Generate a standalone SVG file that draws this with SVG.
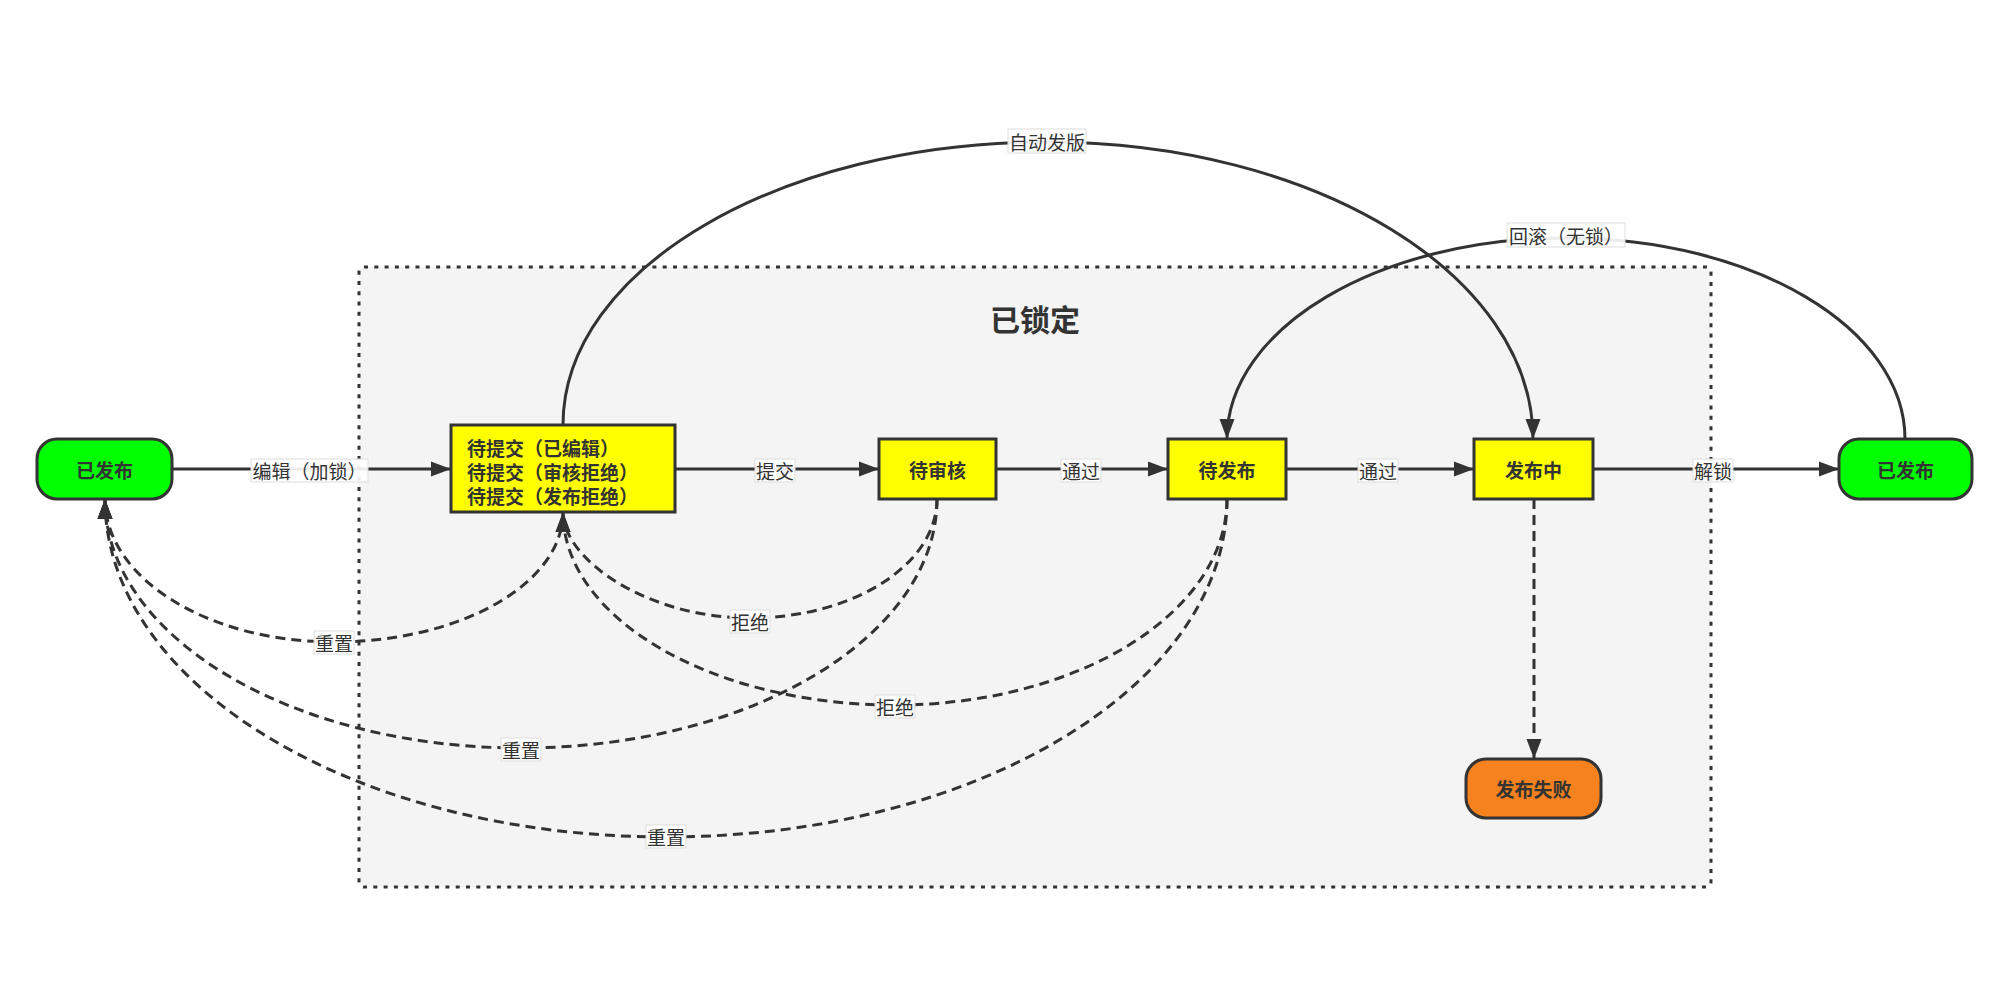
<svg xmlns="http://www.w3.org/2000/svg" width="2010" height="985" viewBox="0 0 2010 985">
<defs>
<style>
.bg{fill:#ffffff}
.cluster{fill:#f4f4f4;stroke:#333333;stroke-width:3;stroke-dasharray:4 6.3}
.title{font-family:"Noto Sans CJK SC","Noto Sans",sans-serif;font-size:30px;font-weight:bold;fill:#333333}
.node{stroke:#333333;stroke-width:3}
.yellow{fill:#ffff00}
.green{fill:#00ff00}
.orange{fill:#f5821f}
.ntext{font-family:"Noto Sans CJK SC","Noto Sans",sans-serif;font-size:19px;font-weight:bold;fill:#333333}
.edge{fill:none;stroke:#333333;stroke-width:3}
.dash{stroke-dasharray:10 6}
.lbox{fill:#ffffff;fill-opacity:0.9;stroke:#dddddd;stroke-width:1}
.ltext{font-family:"Noto Sans CJK SC","Noto Sans",sans-serif;font-size:19px;fill:#333333}
</style>
<marker id="arrow" markerUnits="userSpaceOnUse" markerWidth="20" markerHeight="16" refX="20" refY="8" orient="auto">
<path d="M0,0.5 L20,8 L0,15.5 z" fill="#333333"/>
</marker>
</defs>
<rect class="bg" x="0" y="0" width="2010" height="985"/>

<g id="cluster-locked">
<rect class="cluster" x="359" y="267" width="1352" height="620" rx="5"/>
<text class="title" x="1035" y="318" text-anchor="middle" dominant-baseline="central">已锁定</text>
</g>

<g id="connectors">
<path class="edge" d="M172,469 L451,469" marker-end="url(#arrow)"/>
<path class="edge" d="M675,469 L879,469" marker-end="url(#arrow)"/>
<path class="edge" d="M996,469 L1168,469" marker-end="url(#arrow)"/>
<path class="edge" d="M1286,469 L1474,469" marker-end="url(#arrow)"/>
<path class="edge" d="M1593,469 L1839,469" marker-end="url(#arrow)"/>
<path class="edge dash" d="M1534,499 L1534,759" marker-end="url(#arrow)"/>
<path class="edge" d="M563,425 C563,269 780,142 1047,142 C1315,142 1533,275 1533,439" marker-end="url(#arrow)"/>
<path class="edge" d="M1905,439 C1905,328 1753,238 1566,238 C1379,238 1227,328 1227,439" marker-end="url(#arrow)"/>
<path class="edge dash" d="M937,499 C937,564.7 853,618 750,618 C647,618 563,559.5 563,512" marker-end="url(#arrow)"/>
<path class="edge dash" d="M1227,499 C1227,612.7 1078,705 895,705 C712,705 563,618.5 563,512" marker-end="url(#arrow)"/>
<path class="edge dash" d="M563,512 C563,583.8 460.4,642 334,642 C207.6,642 105,578 105,499" marker-end="url(#arrow)"/>
<path class="edge dash" d="M937,499 C937,636.4 750.6,748 521,748 C291.4,748 105,636.4 105,499" marker-end="url(#arrow)"/>
<path class="edge dash" d="M1227,499 C1227,685.6 975.7,837 666,837 C356.3,837 105,685.6 105,499" marker-end="url(#arrow)"/>

<g id="edge-labels">
<rect class="lbox" x="251" y="459" width="117" height="23"/>
<text class="ltext" x="309.5" y="470.5" text-anchor="middle" dominant-baseline="central">编辑（加锁）</text>
<rect class="lbox" x="755" y="459" width="40" height="23"/>
<text class="ltext" x="775" y="470.5" text-anchor="middle" dominant-baseline="central">提交</text>
<rect class="lbox" x="1061" y="459" width="40" height="23"/>
<text class="ltext" x="1081" y="470.5" text-anchor="middle" dominant-baseline="central">通过</text>
<rect class="lbox" x="1358" y="459" width="40" height="23"/>
<text class="ltext" x="1378" y="470.5" text-anchor="middle" dominant-baseline="central">通过</text>
<rect class="lbox" x="1693" y="459" width="40" height="23"/>
<text class="ltext" x="1713" y="470.5" text-anchor="middle" dominant-baseline="central">解锁</text>
<rect class="lbox" x="1008" y="129" width="78" height="24"/>
<text class="ltext" x="1047" y="141" text-anchor="middle" dominant-baseline="central">自动发版</text>
<rect class="lbox" x="1507" y="223" width="118" height="24"/>
<text class="ltext" x="1566" y="235" text-anchor="middle" dominant-baseline="central">回滚（无锁）</text>
<rect class="lbox" x="730" y="610" width="40" height="23"/>
<text class="ltext" x="750" y="621.5" text-anchor="middle" dominant-baseline="central">拒绝</text>
<rect class="lbox" x="875" y="695" width="40" height="23"/>
<text class="ltext" x="895" y="706.5" text-anchor="middle" dominant-baseline="central">拒绝</text>
<rect class="lbox" x="314" y="631" width="40" height="23"/>
<text class="ltext" x="334" y="642.5" text-anchor="middle" dominant-baseline="central">重置</text>
<rect class="lbox" x="501" y="738" width="40" height="23"/>
<text class="ltext" x="521" y="749.5" text-anchor="middle" dominant-baseline="central">重置</text>
<rect class="lbox" x="646" y="825" width="40" height="23"/>
<text class="ltext" x="666" y="836.5" text-anchor="middle" dominant-baseline="central">重置</text>
</g>
</g>

<g id="node-published-left">
<rect class="node green" x="37" y="439" width="135" height="60" rx="20"/>
<text class="ntext" x="104.5" y="469" text-anchor="middle" dominant-baseline="central">已发布</text>
</g>
<g id="node-pending-submit">
<rect class="node yellow" x="451" y="425" width="224" height="87"/>
<text class="ntext" x="467" y="447.5" dominant-baseline="central">待提交（已编辑）</text>
<text class="ntext" x="467" y="471.5" dominant-baseline="central">待提交（审核拒绝）</text>
<text class="ntext" x="467" y="495.5" dominant-baseline="central">待提交（发布拒绝）</text>
</g>
<g id="node-pending-review">
<rect class="node yellow" x="879" y="439" width="117" height="60"/>
<text class="ntext" x="937.5" y="469" text-anchor="middle" dominant-baseline="central">待审核</text>
</g>
<g id="node-pending-publish">
<rect class="node yellow" x="1168" y="439" width="118" height="60"/>
<text class="ntext" x="1227" y="469" text-anchor="middle" dominant-baseline="central">待发布</text>
</g>
<g id="node-publishing">
<rect class="node yellow" x="1474" y="439" width="119" height="60"/>
<text class="ntext" x="1533.5" y="469" text-anchor="middle" dominant-baseline="central">发布中</text>
</g>
<g id="node-published-right">
<rect class="node green" x="1839" y="439" width="133" height="60" rx="20"/>
<text class="ntext" x="1905.5" y="469" text-anchor="middle" dominant-baseline="central">已发布</text>
</g>
<g id="node-publish-failed">
<rect class="node orange" x="1466" y="759" width="135" height="59" rx="20"/>
<text class="ntext" x="1533.5" y="788.5" text-anchor="middle" dominant-baseline="central">发布失败</text>
</g>
</svg>
